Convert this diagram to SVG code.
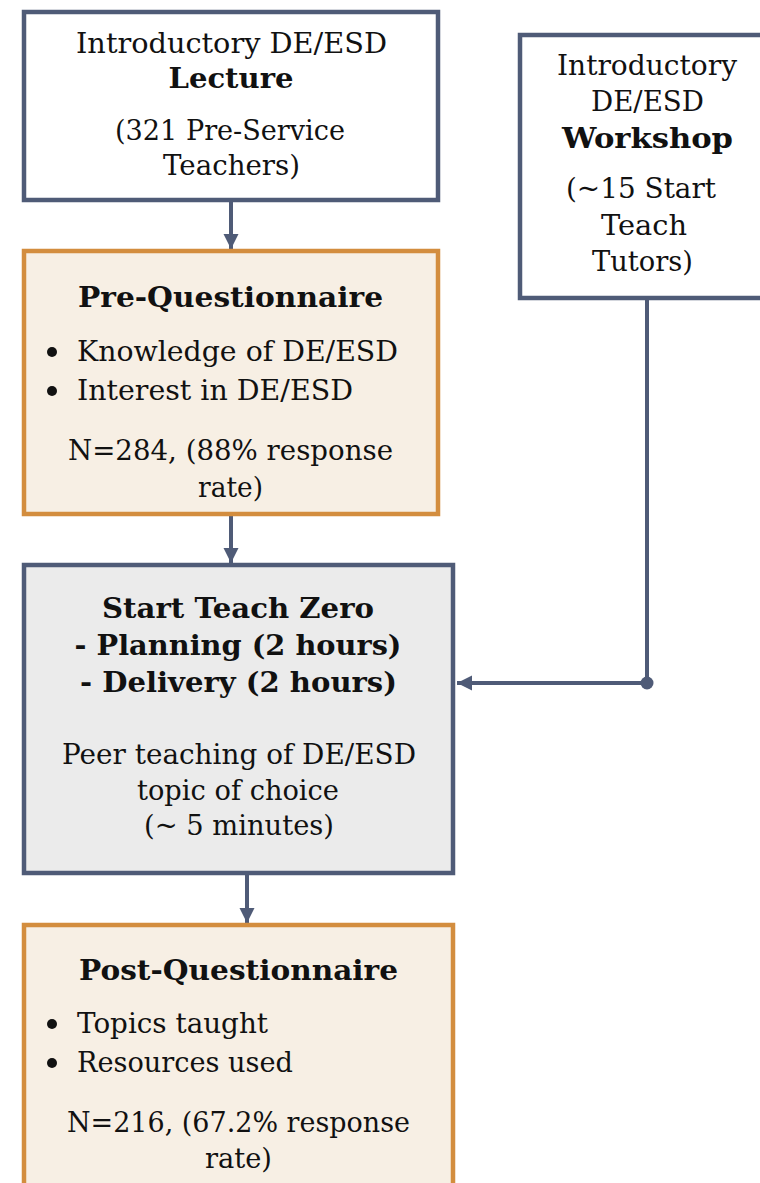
<svg xmlns="http://www.w3.org/2000/svg" width="760" height="1183" viewBox="0 0 760 1183">
<style>
.box{stroke:#4f5b77;stroke-width:4.5;fill:#ffffff}
.qbox{stroke:#d38d3e;stroke-width:4.5;fill:#f7efe4}
.gbox{stroke:#4f5b77;stroke-width:4.5;fill:#ebebeb}
.t{font-family:"DejaVu Serif","Liberation Serif",serif;font-size:28px;fill:#111111;text-anchor:middle}
.l{font-family:"DejaVu Serif","Liberation Serif",serif;font-size:28px;fill:#111111}
.b{font-weight:bold}
.con{stroke:#4f5b77;stroke-width:4;fill:none}
.bul{fill:#111111}
</style>
<defs>
<marker id="arr" markerUnits="userSpaceOnUse" markerWidth="16" markerHeight="16" viewBox="0 0 16 16" refX="15" refY="8" orient="auto">
<path d="M0,0.5 L15,8 L0,15.5 Z" fill="#4f5b77"/>
</marker>
</defs>
<g id="connectors">
<line class="con" x1="231" y1="202" x2="231" y2="249" marker-end="url(#arr)"/>
<line class="con" x1="231" y1="516" x2="231" y2="563" marker-end="url(#arr)"/>
<path class="con" d="M647,299 V683 H457" marker-end="url(#arr)"/>
<circle cx="647" cy="683" r="6.5" fill="#4f5b77"/>
<line class="con" x1="247" y1="875" x2="247" y2="923" marker-end="url(#arr)"/>
</g>
<g id="lecture">
<rect class="box" x="24" y="12" width="414" height="188"/>
<text class="t" x="231.5" y="53" textLength="311" lengthAdjust="spacingAndGlyphs">Introductory DE/ESD</text>
<text class="t b" x="231" y="88" textLength="125" lengthAdjust="spacingAndGlyphs">Lecture</text>
<text class="t" x="230" y="140" textLength="230" lengthAdjust="spacingAndGlyphs">(321 Pre-Service</text>
<text class="t" x="231.5" y="175" textLength="137" lengthAdjust="spacingAndGlyphs">Teachers)</text>
</g>
<g id="workshop">
<rect class="box" x="520" y="35" width="262" height="263"/>
<text class="t" x="647" y="75" textLength="180" lengthAdjust="spacingAndGlyphs">Introductory</text>
<text class="t" x="647.5" y="111" textLength="113" lengthAdjust="spacingAndGlyphs">DE/ESD</text>
<text class="t b" x="647.5" y="148" textLength="171" lengthAdjust="spacingAndGlyphs">Workshop</text>
<text class="t" x="641" y="198" textLength="150" lengthAdjust="spacingAndGlyphs">(~15 Start</text>
<text class="t" x="644" y="235" textLength="86" lengthAdjust="spacingAndGlyphs">Teach</text>
<text class="t" x="642.5" y="271" textLength="101" lengthAdjust="spacingAndGlyphs">Tutors)</text>
</g>
<g id="pre-questionnaire">
<rect class="qbox" x="24" y="251" width="414" height="263"/>
<text class="t b" x="230.5" y="307" textLength="305" lengthAdjust="spacingAndGlyphs">Pre-Questionnaire</text>
<circle class="bul" cx="52" cy="352" r="5"/>
<text class="l" x="77" y="361" textLength="321" lengthAdjust="spacingAndGlyphs">Knowledge of DE/ESD</text>
<circle class="bul" cx="52" cy="391" r="5"/>
<text class="l" x="77" y="400" textLength="276" lengthAdjust="spacingAndGlyphs">Interest in DE/ESD</text>
<text class="t" x="230.5" y="460" textLength="325" lengthAdjust="spacingAndGlyphs">N=284, (88% response</text>
<text class="t" x="230.5" y="497" textLength="65" lengthAdjust="spacingAndGlyphs">rate)</text>
</g>
<g id="start-teach-zero">
<rect class="gbox" x="24" y="565" width="429" height="308"/>
<text class="t b" x="238" y="618" textLength="272" lengthAdjust="spacingAndGlyphs">Start Teach Zero</text>
<text class="t b" x="238" y="655" textLength="327" lengthAdjust="spacingAndGlyphs">- Planning (2 hours)</text>
<text class="t b" x="238.5" y="692" textLength="317" lengthAdjust="spacingAndGlyphs">- Delivery (2 hours)</text>
<text class="t" x="239" y="764" textLength="354" lengthAdjust="spacingAndGlyphs">Peer teaching of DE/ESD</text>
<text class="t" x="238" y="800" textLength="202" lengthAdjust="spacingAndGlyphs">topic of choice</text>
<text class="t" x="239" y="835" textLength="190" lengthAdjust="spacingAndGlyphs">(~ 5 minutes)</text>
</g>
<g id="post-questionnaire">
<rect class="qbox" x="24" y="925" width="429" height="300"/>
<text class="t b" x="238.5" y="980" textLength="319" lengthAdjust="spacingAndGlyphs">Post-Questionnaire</text>
<circle class="bul" cx="52" cy="1024" r="5"/>
<text class="l" x="77" y="1033" textLength="191" lengthAdjust="spacingAndGlyphs">Topics taught</text>
<circle class="bul" cx="52" cy="1063" r="5"/>
<text class="l" x="77" y="1072" textLength="216" lengthAdjust="spacingAndGlyphs">Resources used</text>
<text class="t" x="238.5" y="1132" textLength="343" lengthAdjust="spacingAndGlyphs">N=216, (67.2% response</text>
<text class="t" x="238.5" y="1168" textLength="67" lengthAdjust="spacingAndGlyphs">rate)</text>
</g>
</svg>
